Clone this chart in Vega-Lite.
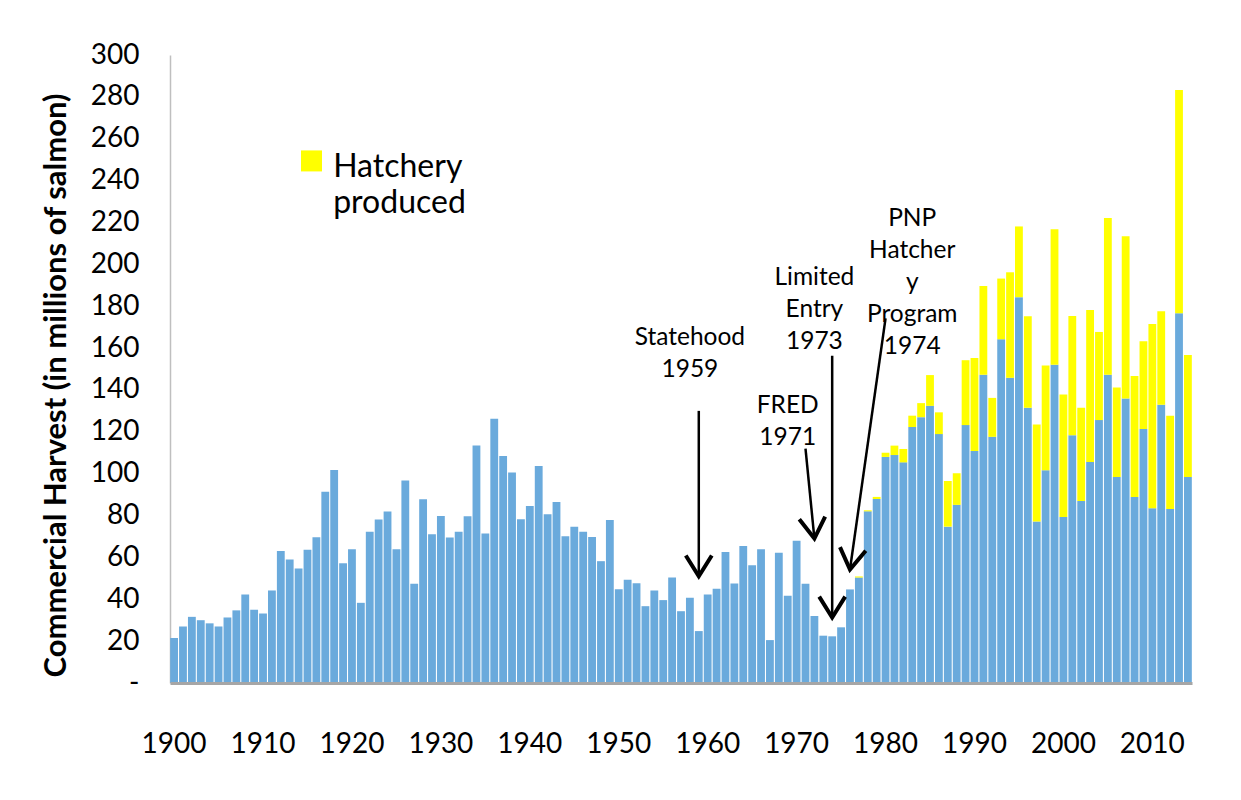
{
  "$schema": "https://vega.github.io/schema/vega-lite/v6.json",
  "autosize": {"type": "none"},
  "padding": {"left": 170, "top": 55, "right": 49, "bottom": 117},
  "width": 1022,
  "height": 628,
  "background": "white",
  "config": {
    "font": "Lato",
    "view": {"stroke": null}
  },
  "encoding": {
    "x": {
      "field": "year", "type": "ordinal",
      "scale": {"paddingInner": 0.12, "paddingOuter": 0.02},
      "axis": {
        "title": null,
        "values": [1900,1910,1920,1930,1940,1950,1960,1970,1980,1990,2000,2010],
        "labelAngle": 0, "labelFontSize": 28, "labelColor": "#000000",
        "labelPadding": 47, "labelOverlap": false, "labelFlush": false,
        "ticks": false, "domainColor": "#a6a6a6", "domainWidth": 3, "zindex": 1
      }
    },
    "y": {
      "field": "value", "type": "quantitative",
      "scale": {"domain": [0, 300], "nice": false, "zero": true},
      "axis": {
        "title": "Commercial Harvest (in millions of salmon)",
        "titleFontSize": 31, "titleFontWeight": "bold", "titleColor": "#000000",
        "titleX": -114, "titleY": 330, "titleAngle": -90, "titleBaseline": "middle", "titleAlign": "center",
        "values": [0,20,40,60,80,100,120,140,160,180,200,220,240,260,280,300],
        "labelExpr": "datum.value == 0 ? '-' : datum.label",
        "labelFontSize": 28, "labelColor": "#000000", "labelPadding": 31,
        "ticks": false, "grid": false, "domainColor": "#bfbfbf", "domainWidth": 1.5
      }
    }
  },
  "layer": [
    {
      "data": {"values": [
        {"year":1900,"source":"Wild","value":21.5},{"year":1901,"source":"Wild","value":27.0},{"year":1902,"source":"Wild","value":31.6},{"year":1903,"source":"Wild","value":30.0},{"year":1904,"source":"Wild","value":28.5},
        {"year":1905,"source":"Wild","value":27.0},{"year":1906,"source":"Wild","value":31.3},{"year":1907,"source":"Wild","value":34.7},{"year":1908,"source":"Wild","value":42.3},{"year":1909,"source":"Wild","value":35.0},
        {"year":1910,"source":"Wild","value":33.2},{"year":1911,"source":"Wild","value":44.2},{"year":1912,"source":"Wild","value":63.1},{"year":1913,"source":"Wild","value":59.0},{"year":1914,"source":"Wild","value":54.7},
        {"year":1915,"source":"Wild","value":63.6},{"year":1916,"source":"Wild","value":69.6},{"year":1917,"source":"Wild","value":91.4},{"year":1918,"source":"Wild","value":101.7},{"year":1919,"source":"Wild","value":57.2},
        {"year":1920,"source":"Wild","value":63.9},{"year":1921,"source":"Wild","value":38.3},{"year":1922,"source":"Wild","value":72.2},{"year":1923,"source":"Wild","value":78.1},{"year":1924,"source":"Wild","value":81.9},
        {"year":1925,"source":"Wild","value":63.9},{"year":1926,"source":"Wild","value":96.7},{"year":1927,"source":"Wild","value":47.4},{"year":1928,"source":"Wild","value":87.8},{"year":1929,"source":"Wild","value":71.1},
        {"year":1930,"source":"Wild","value":79.8},{"year":1931,"source":"Wild","value":69.5},{"year":1932,"source":"Wild","value":72.2},{"year":1933,"source":"Wild","value":79.7},{"year":1934,"source":"Wild","value":113.4},
        {"year":1935,"source":"Wild","value":71.4},{"year":1936,"source":"Wild","value":126.2},{"year":1937,"source":"Wild","value":108.4},{"year":1938,"source":"Wild","value":100.5},{"year":1939,"source":"Wild","value":78.2},
        {"year":1940,"source":"Wild","value":84.6},{"year":1941,"source":"Wild","value":103.7},{"year":1942,"source":"Wild","value":80.6},{"year":1943,"source":"Wild","value":86.5},{"year":1944,"source":"Wild","value":70.1},
        {"year":1945,"source":"Wild","value":74.7},{"year":1946,"source":"Wild","value":72.2},{"year":1947,"source":"Wild","value":69.8},{"year":1948,"source":"Wild","value":58.2},{"year":1949,"source":"Wild","value":77.9},
        {"year":1950,"source":"Wild","value":44.8},{"year":1951,"source":"Wild","value":49.3},{"year":1952,"source":"Wild","value":47.7},{"year":1953,"source":"Wild","value":36.7},{"year":1954,"source":"Wild","value":44.2},
        {"year":1955,"source":"Wild","value":39.6},{"year":1956,"source":"Wild","value":50.4},{"year":1957,"source":"Wild","value":34.3},{"year":1958,"source":"Wild","value":40.7},{"year":1959,"source":"Wild","value":24.8},
        {"year":1960,"source":"Wild","value":42.3},{"year":1961,"source":"Wild","value":45.0},{"year":1962,"source":"Wild","value":62.6},{"year":1963,"source":"Wild","value":47.5},{"year":1964,"source":"Wild","value":65.5},
        {"year":1965,"source":"Wild","value":56.3},{"year":1966,"source":"Wild","value":63.9},{"year":1967,"source":"Wild","value":20.5},{"year":1968,"source":"Wild","value":62.2},{"year":1969,"source":"Wild","value":41.7},
        {"year":1970,"source":"Wild","value":68.0},{"year":1971,"source":"Wild","value":47.4},{"year":1972,"source":"Wild","value":32.0},{"year":1973,"source":"Wild","value":22.6},{"year":1974,"source":"Wild","value":22.3},
        {"year":1975,"source":"Wild","value":26.6},{"year":1976,"source":"Wild","value":44.7},{"year":1977,"source":"Wild","value":50.4},{"year":1978,"source":"Wild","value":82.0},{"year":1979,"source":"Wild","value":87.9},
        {"year":1980,"source":"Wild","value":108.0},{"year":1981,"source":"Wild","value":108.9},{"year":1982,"source":"Wild","value":105.4},{"year":1983,"source":"Wild","value":122.3},{"year":1984,"source":"Wild","value":127.0},
        {"year":1985,"source":"Wild","value":132.4},{"year":1986,"source":"Wild","value":118.9},{"year":1987,"source":"Wild","value":74.7},{"year":1988,"source":"Wild","value":85.1},{"year":1989,"source":"Wild","value":123.2},
        {"year":1990,"source":"Wild","value":110.8},{"year":1991,"source":"Wild","value":147.2},{"year":1992,"source":"Wild","value":117.6},{"year":1993,"source":"Wild","value":164.2},{"year":1994,"source":"Wild","value":145.8},
        {"year":1995,"source":"Wild","value":184.3},{"year":1996,"source":"Wild","value":131.5},{"year":1997,"source":"Wild","value":77.1},{"year":1998,"source":"Wild","value":101.6},{"year":1999,"source":"Wild","value":152.0},
        {"year":2000,"source":"Wild","value":79.3},{"year":2001,"source":"Wild","value":118.3},{"year":2002,"source":"Wild","value":87.0},{"year":2003,"source":"Wild","value":105.6},{"year":2004,"source":"Wild","value":125.6},
        {"year":2005,"source":"Wild","value":147.2},{"year":2006,"source":"Wild","value":98.4},{"year":2007,"source":"Wild","value":135.9},{"year":2008,"source":"Wild","value":88.9},{"year":2009,"source":"Wild","value":121.3},
        {"year":2010,"source":"Wild","value":83.5},{"year":2011,"source":"Wild","value":132.9},{"year":2012,"source":"Wild","value":83.1},{"year":2013,"source":"Wild","value":176.6},{"year":2014,"source":"Wild","value":98.4},
        {"year":1977,"source":"Hatchery produced","value":0.5},{"year":1978,"source":"Hatchery produced","value":0.5},{"year":1979,"source":"Hatchery produced","value":1.0},
        {"year":1980,"source":"Hatchery produced","value":2.0},{"year":1981,"source":"Hatchery produced","value":4.5},{"year":1982,"source":"Hatchery produced","value":6.4},{"year":1983,"source":"Hatchery produced","value":5.4},{"year":1984,"source":"Hatchery produced","value":6.7},
        {"year":1985,"source":"Hatchery produced","value":14.7},{"year":1986,"source":"Hatchery produced","value":10.4},{"year":1987,"source":"Hatchery produced","value":21.8},{"year":1988,"source":"Hatchery produced","value":15.1},{"year":1989,"source":"Hatchery produced","value":31.0},
        {"year":1990,"source":"Hatchery produced","value":44.5},{"year":1991,"source":"Hatchery produced","value":42.5},{"year":1992,"source":"Hatchery produced","value":18.6},{"year":1993,"source":"Hatchery produced","value":29.0},{"year":1994,"source":"Hatchery produced","value":50.4},
        {"year":1995,"source":"Hatchery produced","value":33.8},{"year":1996,"source":"Hatchery produced","value":43.7},{"year":1997,"source":"Hatchery produced","value":46.4},{"year":1998,"source":"Hatchery produced","value":50.1},{"year":1999,"source":"Hatchery produced","value":64.7},
        {"year":2000,"source":"Hatchery produced","value":58.5},{"year":2001,"source":"Hatchery produced","value":57.0},{"year":2002,"source":"Hatchery produced","value":44.5},{"year":2003,"source":"Hatchery produced","value":72.6},{"year":2004,"source":"Hatchery produced","value":42.1},
        {"year":2005,"source":"Hatchery produced","value":74.9},{"year":2006,"source":"Hatchery produced","value":42.8},{"year":2007,"source":"Hatchery produced","value":77.5},{"year":2008,"source":"Hatchery produced","value":57.8},{"year":2009,"source":"Hatchery produced","value":42.0},
        {"year":2010,"source":"Hatchery produced","value":88.0},{"year":2011,"source":"Hatchery produced","value":44.7},{"year":2012,"source":"Hatchery produced","value":44.6},{"year":2013,"source":"Hatchery produced","value":106.7},{"year":2014,"source":"Hatchery produced","value":58.3}
      ]},
      "mark": {"type": "bar"},
      "encoding": {
        "color": {
          "field": "source", "type": "nominal",
          "scale": {"domain": ["Wild", "Hatchery produced"], "range": ["#6aaadc", "#ffff00"]},
          "legend": null
        },
        "order": {"field": "source", "sort": "descending"}
      }
    },
    {
      "data": {"values": [
        {"year": 1915, "value": 249.4}
      ]},
      "mark": {"type": "point", "shape": "square", "size": 441, "filled": true, "color": "#ffff00", "opacity": 1, "strokeWidth": 0, "xOffset": 4}
    },
    {
      "data": {"values": [
        {"year": 1918, "value": 241.9, "label": ["Hatchery", "produced"]}
      ]},
      "mark": {"type": "text", "fontSize": 32, "lineHeight": 36.6, "align": "left", "baseline": "alphabetic", "color": "#000000", "xOffset": -1},
      "encoding": {"text": {"field": "label", "type": "nominal"}}
    },
    {
      "data": {"values": [
        {"year": 1958, "value": 161.5, "label": ["Statehood", "1959"]},
        {"year": 1969, "value": 129.1, "label": ["FRED", "1971"]},
        {"year": 1972, "value": 190.1, "label": ["Limited", "Entry", "1973"]},
        {"year": 1983, "value": 218.3, "label": ["PNP", "Hatcher", "y", "Program", "1974"]}
      ]},
      "mark": {"type": "text", "fontSize": 24.5, "lineHeight": 32, "align": "center", "baseline": "alphabetic", "color": "#000000"},
      "encoding": {"text": {"field": "label", "type": "nominal"}}
    },
    {
      "data": {"values": [
        {"year": 1959, "value": 130, "year2": 1959, "value2": 51},
        {"year": 1971, "value": 112, "year2": 1972, "value2": 69},
        {"year": 1974, "value": 156.3, "year2": 1974, "value2": 31.3},
        {"year": 1980, "value": 174.2, "year2": 1976, "value2": 54.2}
      ]},
      "mark": {"type": "rule", "color": "#000000", "strokeWidth": 2.5},
      "encoding": {
        "x2": {"field": "year2"},
        "y2": {"field": "value2"}
      }
    },
    {
      "data": {"values": [
        {"year": 1959, "value": 51},
        {"year": 1974, "value": 31.3}
      ]},
      "mark": {"type": "point", "shape": "M-1,-1.6L0,0L1,-1.6", "size": 676, "filled": false, "stroke": "#000000", "strokeWidth": 4, "opacity": 1, "strokeJoin": "miter"},
      "encoding": {}
    },
    {
      "data": {"values": [
        {"year": 1972, "value": 69}
      ]},
      "mark": {"type": "point", "shape": "M-1,-1.6L0,0L1,-1.6", "size": 676, "filled": false, "stroke": "#000000", "strokeWidth": 4, "opacity": 1, "strokeJoin": "miter", "angle": 354},
      "encoding": {}
    },
    {
      "data": {"values": [
        {"year": 1976, "value": 54.2}
      ]},
      "mark": {"type": "point", "shape": "M-1,-1.6L0,0L1,-1.6", "size": 676, "filled": false, "stroke": "#000000", "strokeWidth": 4, "opacity": 1, "strokeJoin": "miter", "angle": 8},
      "encoding": {}
    }
  ]
}
